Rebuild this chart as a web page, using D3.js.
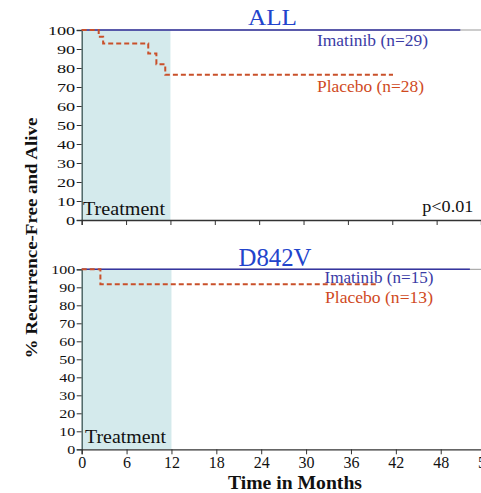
<!DOCTYPE html>
<html>
<head>
<meta charset="utf-8">
<script src="https://cdn.jsdelivr.net/npm/d3@7"></script>
<style>
  html, body { margin: 0; padding: 0; background: #fff; }
  svg { display: block; }
  svg text { font-family: "Liberation Serif", "DejaVu Serif", serif; }
</style>
</head>
<body>
<svg id="chart" width="481" height="493"></svg>
<script>
// Kaplan–Meier style recurrence-free survival, two cohorts
const monthTicks = [0, 6, 12, 18, 24, 30, 36, 42, 48, 54];
const pctTicks = [0, 10, 20, 30, 40, 50, 60, 70, 80, 90, 100];
const treatmentMonths = [0, 12];

const allImatinibTime = [0, 51.2];
const allImatinibPct = [100, 100];
const allPlaceboTime = [0, 2.3, 2.9, 9.0, 10.1, 11.3, 42.1];
const allPlaceboPct = [100, 96.4, 92.9, 87.6, 82.0, 76.4, 76.4];

const dImatinibTime = [0, 51.9];
const dImatinibPct = [100, 100];
const dPlaceboTime = [0, 2.5, 39.7];
const dPlaceboPct = [100, 91.7, 91.7];

const panels = [
  {
    title: "ALL", titleX: 272.5, titleY: 25, titleSize: 23, titleLen: 49,
    top: 30, bottom: 220, xRight: 481, yFont: 13.5, yStretch: 1.35,
    imTime: allImatinibTime, imPct: allImatinibPct,
    plTime: allPlaceboTime, plPct: allPlaceboPct,
    imLabel: "Imatinib (n=29)", imLabelPos: [317, 46, 111],
    plLabel: "Placebo (n=28)", plLabelPos: [317, 92, 107],
    treatPos: [83, 215, 82], pValue: "p<0.01", showMonthLabels: false
  },
  {
    title: "D842V", titleX: 275, titleY: 266, titleSize: 25, titleLen: 73,
    top: 269.3, bottom: 449.3, xRight: 485.6, yFont: 12.5, yStretch: 1.28,
    imTime: dImatinibTime, imPct: dImatinibPct,
    plTime: dPlaceboTime, plPct: dPlaceboPct,
    imLabel: "Imatinib (n=15)", imLabelPos: [324.5, 283.3, 109],
    plLabel: "Placebo (n=13)", plLabelPos: [325, 303.3, 108],
    treatPos: [85, 443, 81], pValue: null, showMonthLabels: true
  }
];

const svg = d3.select("#chart");
const serif = "Liberation Serif, DejaVu Serif, serif";
const blue = "#3535a0";
const orange = "#c9502a";
const axisColor = "#333";

function label(x, y, str, size, len, fill, anchor) {
  const t = svg.append("text").attr("x", x).attr("y", y)
    .style("font-family", serif).style("font-size", size + "px").attr("fill", fill)
    .attr("text-anchor", anchor || "start").text(str);
  if (len) t.attr("textLength", len).attr("lengthAdjust", "spacingAndGlyphs");
  return t;
}

panels.forEach(p => {
  const x = d3.scaleLinear().domain([0, 54]).range([81.7, p.xRight]);
  const y = d3.scaleLinear().domain([0, 100]).range([p.bottom, p.top]);

  // treatment window
  svg.append("rect")
    .attr("x", x(treatmentMonths[0])).attr("y", y(100))
    .attr("width", x(treatmentMonths[1]) - x(treatmentMonths[0]))
    .attr("height", y(0) - y(100))
    .attr("fill", "#d4eaec");

  // top frame line at 100%
  svg.append("line")
    .attr("x1", x(0)).attr("x2", 481)
    .attr("y1", y(100)).attr("y2", y(100))
    .attr("stroke", "#999").attr("stroke-width", 1);

  // y axis
  const yAxis = d3.axisLeft(y).tickValues(pctTicks).tickSize(5).tickPadding(2);
  const gy = svg.append("g").attr("transform", `translate(${x(0)},0)`).call(yAxis);
  gy.attr("font-family", null).attr("font-size", null);
  gy.select(".domain").attr("stroke", "#3d5555").attr("stroke-width", 1.3);
  gy.selectAll(".tick line").attr("stroke", axisColor);
  gy.selectAll(".tick text")
    .style("font-family", serif).style("font-size", p.yFont + "px").attr("fill", "#111")
    .attr("x", 0)
    .attr("transform", `translate(-6.5,0) scale(${p.yStretch},1)`);

  // x axis
  const xAxis = d3.axisBottom(x).tickValues(monthTicks).tickSize(5).tickPadding(2)
    .tickFormat(p.showMonthLabels ? d3.format("d") : () => "");
  const gx = svg.append("g").attr("transform", `translate(0,${y(0)})`).call(xAxis);
  gx.attr("font-family", null).attr("font-size", null);
  gx.select(".domain").attr("stroke", axisColor).attr("stroke-width", 1.3);
  gx.selectAll(".tick line").attr("stroke", axisColor);
  gx.selectAll("text").style("font-family", serif).style("font-size", "16px").attr("fill", "#111");

  const line = d3.line().curve(d3.curveStepAfter)
    .x(d => x(d[0])).y(d => y(d[1]));

  const im = p.imTime.map((t, i) => [t, p.imPct[i]]);
  const pl = p.plTime.map((t, i) => [t, p.plPct[i]]);

  svg.append("path").datum(im).attr("d", line)
    .attr("fill", "none").attr("stroke", blue).attr("stroke-width", 1.6);
  svg.append("path").datum(pl).attr("d", line)
    .attr("fill", "none").attr("stroke", orange).attr("stroke-width", 2)
    .attr("stroke-dasharray", "5,3");

  // panel title and series labels
  label(p.titleX, p.titleY, p.title, p.titleSize, p.titleLen, "#2244cc", "middle");
  label(p.imLabelPos[0], p.imLabelPos[1], p.imLabel, 17, p.imLabelPos[2], "#3b3ba5");
  label(p.plLabelPos[0], p.plLabelPos[1], p.plLabel, 17, p.plLabelPos[2], "#d04a1e");
  label(p.treatPos[0], p.treatPos[1], "Treatment", 19, p.treatPos[2], "#111");

  if (p.pValue) {
    label(422.3, 211.5, p.pValue, 16, 51, "#111");
  }
});

// axis titles
svg.append("text")
  .attr("transform", "translate(37,238) rotate(-90)")
  .attr("text-anchor", "middle")
  .style("font-family", serif).style("font-size", "16.5px").style("font-weight", "bold")
  .attr("fill", "#111")
  .attr("textLength", 241).attr("lengthAdjust", "spacingAndGlyphs")
  .text("% Recurrence-Free and Alive");

svg.append("text").attr("x", 295).attr("y", 489)
  .attr("text-anchor", "middle")
  .style("font-family", serif).style("font-size", "18px").style("font-weight", "bold")
  .attr("fill", "#111")
  .attr("textLength", 134).attr("lengthAdjust", "spacingAndGlyphs")
  .text("Time in Months");
</script>
</body>
</html>
